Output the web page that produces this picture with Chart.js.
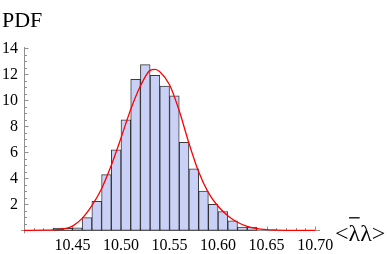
<!DOCTYPE html>
<html>
<head>
<meta charset="utf-8">
<script src="https://cdn.jsdelivr.net/npm/chart.js@4.4.0/dist/chart.umd.min.js"></script>
<style>
	html, body { margin: 0; padding: 0; background: #fff; }
	canvas { display: block; }
</style>
</head>
<body>
<canvas id="graficoPdf" width="390" height="254"></canvas>
<script>
// histogram bins (width 0.01)
var binCenters = [10.405, 10.415, 10.425, 10.435, 10.445, 10.455, 10.465, 10.475, 10.485, 10.495,
	10.505, 10.515, 10.525, 10.535, 10.545, 10.555, 10.565, 10.575, 10.585, 10.595,
	10.605, 10.615, 10.625, 10.635, 10.645, 10.655, 10.665, 10.675, 10.685, 10.695];
var binHeights = [0, 0, 0, 0.18, 0.15, 0.2, 0.97, 2.23, 4.28, 6.2,
	8.5, 11.62, 12.74, 11.93, 11.1, 10.35, 6.77, 4.72, 3.02, 2.0,
	1.45, 0.72, 0.24, 0.24, 0, 0, 0, 0, 0, 0];

// fitted pdf (red curve)
var curveX = [10.40, 10.42, 10.43, 10.44, 10.45, 10.46, 10.47, 10.48, 10.49, 10.50, 10.51, 10.52,
	10.53, 10.535, 10.54, 10.55, 10.56, 10.57, 10.58, 10.59, 10.60, 10.61, 10.62, 10.63, 10.64,
	10.65, 10.66, 10.68, 10.70];
var curveY = [0, 0.01, 0.03, 0.1, 0.32, 0.92, 1.9, 3.2, 5.0, 7.1, 9.3, 11.1,
	12.3, 12.38, 12.2, 11.2, 9.2, 6.7, 4.5, 2.9, 1.85, 1.12, 0.62, 0.3, 0.13,
	0.05, 0.02, 0, 0];

var xTicks = [10.45, 10.50, 10.55, 10.60, 10.65, 10.70];
var yTicks = [2, 4, 6, 8, 10, 12, 14];

var fonteSerif = '"Liberation Serif", "DejaVu Serif", serif';
var corEixo = '#8f8f8f';

// mathematica style axes: crossing at (10.40, 0), ticks pointing inwards
var eixosPlugin = {
	id: 'eixos',
	beforeDatasetsDraw: function(chart) {
		var ctx = chart.ctx, area = chart.chartArea;
		var sx = chart.scales.x, sy = chart.scales.y;
		var x0 = Math.round(sx.getPixelForValue(10.40)) + 0.5;
		var y0 = Math.round(sy.getPixelForValue(0)) + 0.5;
		ctx.save();
		ctx.strokeStyle = corEixo;
		ctx.lineWidth = 1;
		ctx.beginPath();
		ctx.moveTo(area.left, y0); ctx.lineTo(area.right, y0);
		ctx.moveTo(x0, area.bottom); ctx.lineTo(x0, area.top);
		// x ticks
		for (var i = 1; i <= 30; i++) {
			var v = 10.40 + i * 0.01;
			var px = Math.round(sx.getPixelForValue(v)) + 0.5;
			var len = (i % 5 === 0) ? 4 : 2.5;
			ctx.moveTo(px, y0); ctx.lineTo(px, y0 - len);
		}
		// y ticks
		for (var j = 1; j <= 28; j++) {
			var py = Math.round(sy.getPixelForValue(j * 0.5)) + 0.5;
			var l = (j % 4 === 0) ? 4 : 2.5;
			ctx.moveTo(x0, py); ctx.lineTo(x0 + l, py);
		}
		ctx.stroke();
		ctx.restore();
	},
	afterDraw: function(chart) {
		var ctx = chart.ctx, area = chart.chartArea;
		var y0 = chart.scales.y.getPixelForValue(0);
		ctx.save();
		ctx.fillStyle = '#000';
		ctx.textBaseline = 'alphabetic';
		ctx.textAlign = 'left';
		ctx.font = '22px ' + fonteSerif;
		ctx.fillText('PDF', 2, area.top - 20);

		// <λλ> with a bar over the first lambda
		ctx.font = '24px ' + fonteSerif;
		var xl = area.right + 15, base = y0 + 11;
		ctx.fillText('<\u03bb\u03bb>', xl, base);
		var wLt = ctx.measureText('<').width;
		var wLam = ctx.measureText('\u03bb').width;
		ctx.strokeStyle = '#000';
		ctx.lineWidth = 1.3;
		ctx.beginPath();
		ctx.moveTo(xl + wLt + 0.5, y0 - 12.5);
		ctx.lineTo(xl + wLt + wLam - 0.5, y0 - 12.5);
		ctx.stroke();
		ctx.restore();
	}
};

var dadosBarras = binCenters.map(function(c, i) { return { x: c, y: binHeights[i] }; });
var dadosCurva = curveX.map(function(x, i) { return { x: x, y: curveY[i] }; });

var grafico = new Chart(document.getElementById('graficoPdf').getContext('2d'), {
	type: 'bar',
	data: {
		datasets: [
			{
				type: 'line',
				data: dadosCurva,
				borderColor: '#ff0000',
				borderWidth: 1.3,
				pointRadius: 0,
				fill: false,
				cubicInterpolationMode: 'monotone',
				order: 0
			},
			{
				type: 'bar',
				data: dadosBarras,
				backgroundColor: 'rgb(201,209,246)',
				borderColor: 'rgba(25,25,25,0.85)',
				borderWidth: 1,
				borderSkipped: false,
				barPercentage: 1,
				categoryPercentage: 1,
				grouped: false,
				order: 1
			}
		]
	},
	options: {
		responsive: false,
		animation: false,
		devicePixelRatio: 1,
		layout: { padding: { top: 47, right: 70, bottom: 0, left: 0 } },
		plugins: { legend: { display: false }, tooltip: { enabled: false } },
		scales: {
			x: {
				type: 'linear',
				min: 10.397,
				max: 10.705,
				offset: false,
				bounds: 'data',
				grid: { display: false, drawTicks: false },
				border: { display: false },
				afterBuildTicks: function(scale) {
					scale.ticks = xTicks.map(function(v) { return { value: v }; });
				},
				afterFit: function(scale) { scale.height = 20.7; },
				ticks: {
					padding: 3,
					color: '#000',
					font: { family: fonteSerif, size: 16 },
					maxRotation: 0,
					autoSkip: false,
					callback: function(v) { return Number(v).toFixed(2); }
				}
			},
			y: {
				type: 'linear',
				min: -0.23,
				max: 14.1,
				bounds: 'data',
				grid: { display: false, drawTicks: false },
				border: { display: false },
				afterBuildTicks: function(scale) {
					scale.ticks = yTicks.map(function(v) { return { value: v }; });
				},
				afterFit: function(scale) { scale.width = 21; },
				ticks: {
					padding: 3,
					color: '#000',
					font: { family: fonteSerif, size: 16 },
					autoSkip: false
				}
			}
		}
	},
	plugins: [eixosPlugin]
});
</script>
</body>
</html>
